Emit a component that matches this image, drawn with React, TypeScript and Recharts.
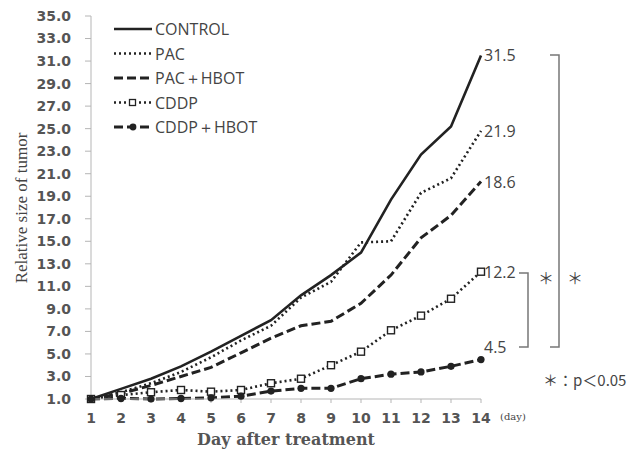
import React from 'react';
import { LineChart, Line, XAxis, YAxis, Legend, LabelList } from 'recharts';

const DAYS = [1, 2, 3, 4, 5, 6, 7, 8, 9, 10, 11, 12, 13, 14];
const Y_TICKS = [1, 3, 5, 7, 9, 11, 13, 15, 17, 19, 21, 23, 25, 27, 29, 31, 33, 35];

const CONTROL = [1.0, 1.9, 2.8, 3.9, 5.2, 6.6, 8.0, 10.2, 12.0, 14.0, 18.7, 22.7, 25.2, 31.5];
const PAC = [1.0, 1.6, 2.4, 3.4, 4.7, 6.2, 7.5, 10.0, 11.4, 14.9, 15.0, 19.3, 20.6, 24.8];
const PAC_HBOT = [1.0, 1.5, 2.2, 3.0, 3.8, 5.1, 6.4, 7.5, 7.9, 9.5, 12.0, 15.3, 17.3, 20.3];
const CDDP = [1.0, 1.35, 1.6, 1.8, 1.65, 1.8, 2.4, 2.8, 4.0, 5.2, 7.1, 8.4, 9.9, 12.3];
const CDDP_HBOT = [1.0, 1.05, 1.0, 1.05, 1.1, 1.25, 1.7, 1.95, 1.95, 2.8, 3.2, 3.4, 3.9, 4.5];

const SERIES_NAMES = ['CONTROL', 'PAC', 'PAC＋HBOT', 'CDDP', 'CDDP＋HBOT'];
const END_LABELS = ['31.5', '21.9', '18.6', '12.2', '4.5'];

const data = DAYS.map((day, i) => ({
  day,
  control: CONTROL[i],
  pac: PAC[i],
  pacHbot: PAC_HBOT[i],
  cddp: CDDP[i],
  cddpHbot: CDDP_HBOT[i],
}));

const INK = '#222';
const AXIS = '#b5b5b5';
const TEXT = '#444';
const TICK = '#555';

// dash pattern per series, same order as SERIES_NAMES
const STYLES = [
  { key: 'control', dash: undefined, width: 2.6 },
  { key: 'pac', dash: '2 3', width: 2.6 },
  { key: 'pacHbot', dash: '9 4', width: 3 },
  { key: 'cddp', dash: '2 3', width: 2.6 },
  { key: 'cddpHbot', dash: '9 4', width: 3 },
];

const SquareDot = (props: any) => {
  const { cx, cy } = props;
  if (cx == null || cy == null) return null;
  return <rect x={cx - 3.5} y={cy - 3.5} width={7} height={7} fill="#fff" stroke={INK} strokeWidth={1.4} />;
};

const RoundDot = (props: any) => {
  const { cx, cy } = props;
  if (cx == null || cy == null) return null;
  return <circle cx={cx} cy={cy} r={3.6} fill={INK} />;
};

const endLabel = (text: string, dy: number) => (props: any) => {
  const { x, y, index } = props;
  if (index !== DAYS.length - 1) return null;
  return (
    <text x={x + 3} y={y + dy} dominantBaseline="central" fontFamily="Open Sans" fontSize={16} fill={TEXT}>
      {text}
    </text>
  );
};

const CustomLegend = () => (
  <svg width={200} height={120}>
    {STYLES.map((s, i) => {
      const y = 11 + i * 24.5;
      return (
        <g key={s.key}>
          <line x1={2} x2={40} y1={y} y2={y} stroke={INK} strokeWidth={s.width} strokeDasharray={s.dash} />
          {i === 3 && <rect x={17.5} y={y - 3} width={6} height={6} fill="#fff" stroke={INK} strokeWidth={1.3} />}
          {i === 4 && <circle cx={21} cy={y} r={3.4} fill={INK} />}
          <text x={43} y={y} dominantBaseline="central" fontFamily="Open Sans" fontSize={16} fill={TEXT}>
            {SERIES_NAMES[i]}
          </text>
        </g>
      );
    })}
  </svg>
);

const tickStyle = { fill: TICK, fontFamily: 'DejaVu Sans', fontSize: 14, fontWeight: 'bold' };

export default function App() {
  return (
    <div style={{ position: 'absolute', left: 0, top: 0, width: 638, height: 450, background: '#fff' }}>
      <LineChart width={638} height={450} data={data} margin={{ top: 16, right: 157, bottom: 21, left: 31 }}>
        <XAxis
          dataKey="day"
          type="number"
          domain={[1, 14]}
          ticks={DAYS}
          height={30}
          stroke={AXIS}
          tickSize={4}
          tickMargin={10}
          tick={tickStyle}
        />
        <YAxis
          type="number"
          domain={[1, 35]}
          ticks={Y_TICKS}
          width={60}
          stroke={AXIS}
          tickSize={6}
          tickMargin={14}
          tickFormatter={(v: number) => v.toFixed(1)}
          tick={tickStyle}
        />
        <Legend
          layout="vertical"
          align="center"
          verticalAlign="middle"
          wrapperStyle={{ top: 18, left: 112, width: 200, height: 120 }}
          content={<CustomLegend />}
        />
        <Line dataKey="control" stroke={INK} strokeWidth={2.6} dot={false} isAnimationActive={false}>
          <LabelList dataKey="control" content={endLabel(END_LABELS[0], 0)} />
        </Line>
        <Line dataKey="pac" stroke={INK} strokeWidth={2.6} strokeDasharray="2 3" dot={false} isAnimationActive={false}>
          <LabelList dataKey="pac" content={endLabel(END_LABELS[1], 0)} />
        </Line>
        <Line dataKey="pacHbot" stroke={INK} strokeWidth={3} strokeDasharray="9 4" dot={false} isAnimationActive={false}>
          <LabelList dataKey="pacHbot" content={endLabel(END_LABELS[2], 0)} />
        </Line>
        <Line dataKey="cddp" stroke={INK} strokeWidth={2.6} strokeDasharray="2 3" dot={<SquareDot />} isAnimationActive={false}>
          <LabelList dataKey="cddp" content={endLabel(END_LABELS[3], 0)} />
        </Line>
        <Line dataKey="cddpHbot" stroke={INK} strokeWidth={3} strokeDasharray="9 4" dot={<RoundDot />} isAnimationActive={false}>
          <LabelList dataKey="cddpHbot" content={endLabel(END_LABELS[4], -13)} />
        </Line>
      </LineChart>
      <svg width={638} height={450} style={{ position: 'absolute', left: 0, top: 0, pointerEvents: 'none' }}>
        <text
          transform="translate(21,208) rotate(-90)"
          textAnchor="middle"
          dominantBaseline="central"
          fontFamily="Liberation Serif"
          fontSize={17}
          fill={TEXT}
        >
          Relative size of tumor
        </text>
        <text x={286} y={445} textAnchor="middle" fontFamily="DejaVu Serif" fontSize={16} fontWeight="bold" fill={TICK}>
          Day after treatment
        </text>
        <text x={500} y={416} dominantBaseline="central" fontFamily="DejaVu Serif" fontSize={10} fill={TEXT}>
          (day)
        </text>
        <polyline points="550,55 559,55 559,347 550,347" fill="none" stroke="#777" strokeWidth={1.5} />
        <polyline points="519,273 528,273 528,347 519,347" fill="none" stroke="#777" strokeWidth={1.5} />
        <text x={546} y={277} textAnchor="middle" dominantBaseline="central" fontFamily="Noto Sans CJK JP" fontSize={16} fill={TEXT}>＊</text>
        <text x={575} y={277} textAnchor="middle" dominantBaseline="central" fontFamily="Noto Sans CJK JP" fontSize={16} fill={TEXT}>＊</text>
        <text x={543} y={379} dominantBaseline="central" fontFamily="Noto Sans CJK JP" fontSize={15} fill={TEXT}>＊：p＜0.05</text>
      </svg>
    </div>
  );
}
